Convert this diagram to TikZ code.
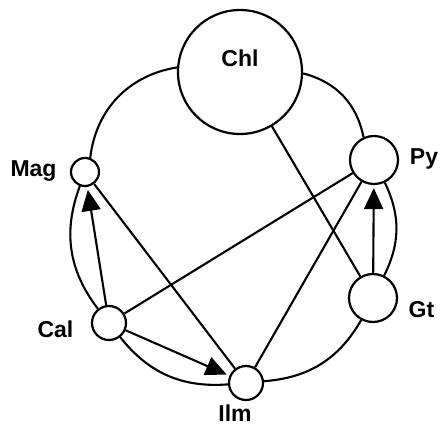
\documentclass[tikz,border=0pt]{standalone}
\usepackage{fontspec}
\setmainfont{Liberation Sans}
\usetikzlibrary{arrows.meta}
\begin{document}
\begin{tikzpicture}[x=1pt,y=1pt,
  mineral/.style={circle,draw,line width=2.2pt,fill=white,inner sep=0pt},
  lbl/.style={font=\bfseries\fontsize{23}{23}\selectfont,anchor=base,inner sep=0pt},
  edge/.style={line width=2.1pt},
  arr/.style={edge,-{Triangle[length=21pt,width=19pt]},shorten >=3pt}]
\useasboundingbox (0,0) rectangle (441,425);
\node[mineral,minimum size=124pt] (Chl) at (240,353) {};
\node[mineral,minimum size=28pt] (Mag) at (85,253) {};
\node[mineral,minimum size=48pt] (Py) at (374,265) {};
\node[mineral,minimum size=48pt] (Gt) at (373,127) {};
\node[mineral,minimum size=34pt] (Cal) at (109,102) {};
\node[mineral,minimum size=34pt] (Ilm) at (246,42) {};
% ring
\draw[edge] (Chl) to[bend right=37] (Mag);
\draw[edge] (Mag) to[bend right=29] (Cal);
\draw[edge] (Cal) to[bend right=28] (Ilm);
\draw[edge] (Ilm) to[bend right=28] (Gt);
\draw[edge] (Gt) to[bend right=26] (Py);
\draw[edge] (Py) to[bend right=32] (Chl);
% chords
\draw[arr] (Cal) -- (Mag);
\draw[edge] (Mag) -- (Ilm);
\draw[edge] (Cal) -- (Py);
\draw[edge] (Ilm) -- (Py);
\draw[edge] (Chl) -- (Gt);
\draw[arr] (Gt) -- (Py);
\draw[arr] (Cal) -- (Ilm);
% labels
\node[lbl] (tChl) at (240,358) {Chl};
\node[lbl] (tMag) at (33.5,248) {Mag};
\node[lbl] (tPy) at (424,260) {Py};
\node[lbl] (tGt) at (421.5,107) {Gt};
\node[lbl] (tCal) at (55.5,87) {Cal};
\node[lbl] (tIlm) at (235,3.5) {Ilm};
\end{tikzpicture}
\end{document}
